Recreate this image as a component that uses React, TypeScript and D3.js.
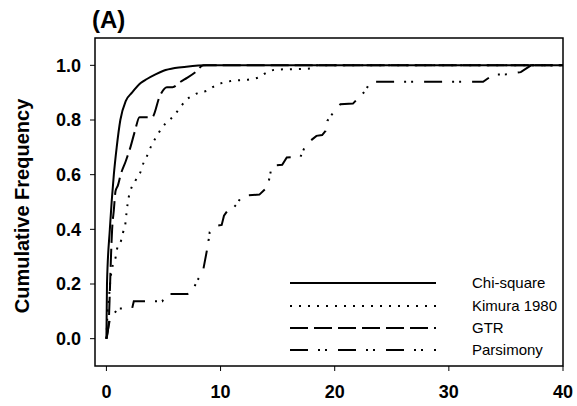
import React from 'react';
import * as d3 from 'd3';

// cumulative frequency curves as [x, y]
const chiSquare: [number, number][] = [
  [0, 0], [0.05, 0.2], [0.3, 0.4], [0.65, 0.6], [0.9, 0.7], [1.22, 0.8],
  [1.7, 0.87], [2.24, 0.9], [3.0, 0.935], [3.55, 0.95], [4.3, 0.967],
  [5.0, 0.98], [6.0, 0.99], [7.0, 0.995], [8.8, 1.0], [40, 1.0]
];

const kimura: [number, number][] = [
  [0, 0], [0.05, 0.05], [0.1, 0.1], [0.2, 0.139], [0.35, 0.215], [0.58, 0.273],
  [0.82, 0.3], [0.93, 0.328], [1.28, 0.358], [1.46, 0.389], [1.66, 0.42],
  [1.75, 0.456], [1.95, 0.517], [2.54, 0.578], [2.97, 0.608], [3.27, 0.645],
  [3.56, 0.669], [4.0, 0.712], [4.44, 0.742], [4.87, 0.773], [5.45, 0.797],
  [5.89, 0.815], [6.47, 0.846], [6.9, 0.87], [7.5, 0.888], [8.07, 0.9],
  [8.8, 0.907], [9.5, 0.925], [10.26, 0.937], [11.0, 0.943], [12.6, 0.949],
  [13.3, 0.955], [14.06, 0.974], [14.8, 0.984], [17.8, 0.988], [18.5, 1.0], [40, 1.0]
];

const gtr: [number, number][] = [
  [0, 0], [0.2, 0.06], [0.3, 0.17], [0.4, 0.3], [0.5, 0.4], [0.65, 0.47],
  [0.8, 0.54], [1.0, 0.56], [1.25, 0.6], [1.7, 0.65], [2.1, 0.7], [2.5, 0.76],
  [2.9, 0.81], [4.0, 0.81], [4.7, 0.89], [5.3, 0.92], [5.8, 0.92], [6.5, 0.94],
  [7.1, 0.955], [7.8, 0.975], [8.5, 1.0], [40, 1.0]
];

const parsimony: [number, number][] = [
  [0, 0], [0.3, 0.07], [0.65, 0.09], [1.0, 0.11], [2.25, 0.11], [2.4, 0.137],
  [4.9, 0.137], [5.2, 0.163], [7.1, 0.163], [7.6, 0.18], [7.95, 0.212],
  [8.45, 0.245], [8.8, 0.322], [8.95, 0.36], [9.05, 0.39], [9.6, 0.413],
  [10.1, 0.416], [10.3, 0.45], [10.6, 0.468], [10.9, 0.468], [11.4, 0.492],
  [11.9, 0.523], [13.4, 0.527], [13.9, 0.547], [14.2, 0.572], [14.5, 0.633],
  [15.4, 0.636], [15.8, 0.663], [17.0, 0.665], [17.3, 0.694], [17.7, 0.718],
  [18.4, 0.742], [18.9, 0.745], [19.2, 0.76], [19.35, 0.797], [20.0, 0.834],
  [20.5, 0.858], [21.6, 0.86], [22.1, 0.882], [22.7, 0.907], [23.1, 0.94],
  [33.0, 0.94], [33.9, 0.966], [35.0, 0.967], [36.3, 0.975], [37.2, 1.0], [40, 1.0]
];

const seriesNames = ['Chi-square', 'Kimura 1980', 'GTR', 'Parsimony'];
const xTicks = [0, 10, 20, 30, 40];
const yTicks = [0, 0.2, 0.4, 0.6, 0.8, 1.0];

const width = 577;
const height = 406;
const plot = { left: 95, right: 563, top: 38, bottom: 366 };

const x = d3.scaleLinear().domain([-1, 40]).range([plot.left, plot.right]);
const y = d3.scaleLinear().domain([-0.1, 1.1]).range([plot.bottom, plot.top]);

const smooth = d3.line<[number, number]>()
  .x(d => x(d[0]))
  .y(d => y(d[1]))
  .curve(d3.curveMonotoneX);

const straight = d3.line<[number, number]>()
  .x(d => x(d[0]))
  .y(d => y(d[1]));

const styles = [
  { data: chiSquare, dash: undefined, gen: smooth },
  { data: kimura, dash: '2,7', gen: smooth },
  { data: gtr, dash: '18,6', gen: smooth },
  { data: parsimony, dash: '18,10,2,5,2,11', gen: straight }
];

const legendY = [283, 306, 328, 350];

const App = () => {
  return (
    <svg
      width={width}
      height={height}
      style={{ position: 'absolute', left: 0, top: 0, fontFamily: 'Liberation Sans, Arial, sans-serif' }}
    >
      <rect x={0} y={0} width={width} height={height} fill="white" />
      <text x={92} y={28} fontSize={24} fontWeight="bold">(A)</text>

      <text
        transform={`translate(29,${(plot.top + plot.bottom) / 2 + 4}) rotate(-90)`}
        textAnchor="middle"
        fontSize={20}
        fontWeight="bold"
      >
        Cumulative Frequency
      </text>

      {styles.map((s, i) => (
        <path
          key={seriesNames[i]}
          d={s.gen(s.data) || ''}
          fill="none"
          stroke="black"
          strokeWidth={2}
          strokeDasharray={s.dash}
        />
      ))}

      <rect
        x={plot.left}
        y={plot.top}
        width={plot.right - plot.left}
        height={plot.bottom - plot.top}
        fill="none"
        stroke="black"
        strokeWidth={1.5}
      />

      {yTicks.map(t => (
        <g key={t} transform={`translate(0,${y(t)})`}>
          <line x1={plot.left - 5} x2={plot.left} stroke="black" strokeWidth={1} />
          <text x={81} dy="0.35em" textAnchor="end" fontSize={18} fontWeight="bold">
            {t.toFixed(1)}
          </text>
        </g>
      ))}

      {xTicks.map(t => (
        <g key={t} transform={`translate(${x(t)},0)`}>
          <line y1={plot.bottom} y2={plot.bottom + 5} stroke="black" strokeWidth={1} />
          <text y={398} textAnchor="middle" fontSize={18} fontWeight="bold">{t}</text>
        </g>
      ))}

      {styles.map((s, i) => (
        <g key={'lg' + i} transform={`translate(0,${legendY[i]})`}>
          <line x1={290} x2={436} stroke="black" strokeWidth={2} strokeDasharray={s.dash} />
          <text x={472} dy="0.35em" fontSize={15}>{seriesNames[i]}</text>
        </g>
      ))}
    </svg>
  );
};

export default App;
